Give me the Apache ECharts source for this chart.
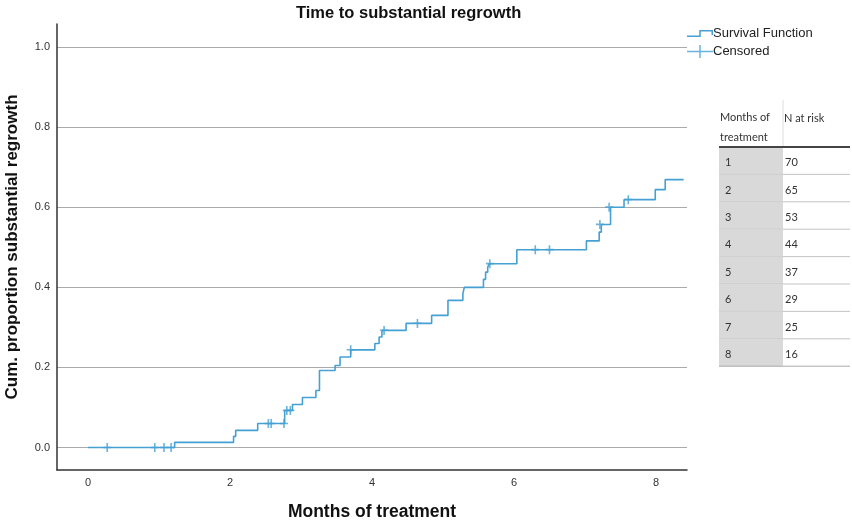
<!DOCTYPE html>
<html>
<head>
<meta charset="utf-8">
<script src="https://cdn.jsdelivr.net/npm/echarts@6/dist/echarts.min.js"></script>
<style>
  html, body { margin: 0; padding: 0; background: #fff; }
  #main { width: 852px; height: 526px; }
</style>
</head>
<body>
<div id="main"></div>
<script type="text/javascript">
    // Kaplan-Meier style curve (cumulative proportion)
    var survTime = [0, 1.22, 2.05, 2.08, 2.39, 2.77, 2.88, 3.02, 3.21, 3.26, 3.48, 3.55, 3.70, 4.04, 4.10, 4.14, 4.48, 4.84, 5.07, 5.28, 5.30, 5.57, 5.60, 5.63, 5.65, 6.04, 7.02, 7.20, 7.23, 7.36, 7.55, 7.99, 8.13, 8.39];
    var survProb = [0, 0.013, 0.028, 0.043, 0.06, 0.0925, 0.1075, 0.125, 0.1425, 0.1925, 0.205, 0.226, 0.244, 0.26, 0.276, 0.2925, 0.31, 0.33, 0.3675, 0.384, 0.40, 0.42, 0.438, 0.45, 0.459, 0.494, 0.516, 0.538, 0.557, 0.60, 0.619, 0.644, 0.669, 0.669];
    var censTime = [0.27, 0.94, 1.07, 1.17, 2.54, 2.58, 2.76, 2.80, 2.85, 3.70, 4.17, 4.64, 5.66, 6.30, 6.50, 7.21, 7.34, 7.61];
    var censProb = [0, 0, 0, 0, 0.06, 0.06, 0.06, 0.0925, 0.0925, 0.244, 0.2925, 0.31, 0.459, 0.494, 0.494, 0.557, 0.60, 0.619];

    // risk table
    var months = [1, 2, 3, 4, 5, 6, 7, 8];
    var atRisk = [70, 65, 53, 44, 37, 29, 25, 16];

    var blue = '#45a0d3';
    var font = '"Liberation Sans", Arial, sans-serif';

    var survData = survTime.map(function (t, i) { return [t, survProb[i]]; });
    var censData = censTime.map(function (t, i) { return [t, censProb[i]]; });

    // table drawn with graphic elements
    var tX = 719, tW = 131, c1W = 64, hTop = 100, hBot = 147, rowH = 27.4;
    var tfont = '11px Lato, "Open Sans", sans-serif';
    var table = [];
    table.push({ type: 'line', shape: { x1: tX + c1W, y1: hTop, x2: tX + c1W, y2: hBot }, style: { stroke: '#dddddd', lineWidth: 1 } });
    table.push({ type: 'text', x: tX + 1, y: 117, style: { text: 'Months of', font: tfont, fill: '#333', verticalAlign: 'middle' } });
    table.push({ type: 'text', x: tX + 1, y: 137, style: { text: 'treatment', font: tfont, fill: '#333', verticalAlign: 'middle' } });
    table.push({ type: 'text', x: tX + c1W + 1, y: 118, style: { text: 'N at risk', font: tfont, fill: '#333', verticalAlign: 'middle' } });
    months.forEach(function (m, i) {
        var y0 = hBot + rowH * i;
        table.push({ type: 'rect', shape: { x: tX, y: y0, width: c1W, height: rowH }, style: { fill: '#d9d9d9' } });
        table.push({ type: 'line', shape: { x1: tX, y1: y0 + rowH, x2: tX + tW, y2: y0 + rowH }, style: { stroke: i === months.length - 1 ? '#aaaaaa' : '#c4c4c4', lineWidth: 1 } });
        table.push({ type: 'text', x: tX + 6, y: y0 + rowH / 2 + 2, style: { text: String(m), font: tfont, fill: '#333', verticalAlign: 'middle' } });
        table.push({ type: 'text', x: tX + c1W + 2, y: y0 + rowH / 2 + 2, style: { text: String(atRisk[i]), font: tfont, fill: '#333', verticalAlign: 'middle' } });
    });
    table.push({ type: 'line', shape: { x1: tX, y1: hBot, x2: tX + tW, y2: hBot }, style: { stroke: '#444444', lineWidth: 2 } });

    var stepIcon = 'path://M0,5.5H12.25V0H26V5H24.5V1.5H13.75V7H0Z';
    var crossIcon = 'path://M0,5.75H26V7.25H0Z M12.25,0H13.75V13H12.25Z';
    var censSymbol = 'path://M0,3.6H8V5.2H0Z M3.2,0H4.8V9H3.2Z';

    var myChart = echarts.init(document.getElementById('main'));
    myChart.setOption({
        animation: false,
        backgroundColor: '#fff',
        title: {
            text: 'Time to substantial regrowth',
            left: 291,
            top: 0,
            textStyle: { fontFamily: font, fontSize: 16.5, fontWeight: 'bold', color: '#111' }
        },
        legend: {
            orient: 'vertical',
            left: 682,
            top: 22,
            itemWidth: 26,
            itemHeight: 13,
            itemGap: 5,
            symbolKeepAspect: true,
            textStyle: { fontFamily: font, fontSize: 13, color: '#222', padding: [0, 0, 0, -5] },
            data: [
                { name: 'Survival Function', icon: stepIcon },
                { name: 'Censored', icon: crossIcon }
            ]
        },
        grid: { left: 57, right: 165, top: 24, bottom: 56, containLabel: false, outerBoundsMode: 'none' },
        xAxis: {
            type: 'value',
            min: -0.437,
            max: 8.437,
            splitNumber: 5,
            name: 'Months of treatment',
            nameLocation: 'middle',
            nameGap: 33,
            nameTextStyle: { fontFamily: font, fontSize: 17.5, fontWeight: 'bold', color: '#111' },
            axisLine: { show: true, onZero: false, lineStyle: { color: '#333', width: 1.5 } },
            axisTick: { show: false },
            splitLine: { show: false },
            axisLabel: {
                margin: 7,
                fontFamily: font, fontSize: 11, color: '#333',
                formatter: function (v) {
                    var r = Math.round(v);
                    return (Math.abs(v - r) < 1e-6 && r % 2 === 0) ? String(r) : '';
                }
            }
        },
        yAxis: {
            type: 'value',
            min: -0.056,
            max: 1.0575,
            splitNumber: 5,
            name: 'Cum. proportion substantial regrowth',
            nameLocation: 'middle',
            nameGap: 36,
            nameTextStyle: { fontFamily: font, fontSize: 17, fontWeight: 'bold', color: '#111' },
            axisLine: { show: true, onZero: false, lineStyle: { color: '#333', width: 1.5 } },
            axisTick: { show: false },
            splitLine: { show: true, showMinLine: false, showMaxLine: false, lineStyle: { color: '#aaaaaa', width: 1.2 } },
            axisLabel: {
                margin: 7,
                fontFamily: font, fontSize: 11, color: '#333',
                formatter: function (v) {
                    var r = Math.round(v * 5) / 5;
                    return (Math.abs(v - r) < 1e-6 && v >= 0) ? r.toFixed(1) : '';
                }
            }
        },
        series: [
            {
                name: 'Survival Function',
                type: 'line',
                step: 'end',
                data: survData,
                showSymbol: false,
                itemStyle: { color: blue },
                lineStyle: { color: blue, width: 1.6 },
                z: 3
            },
            {
                name: 'Censored',
                type: 'scatter',
                data: censData,
                symbol: censSymbol,
                symbolSize: [8, 9],
                itemStyle: { color: blue },
                z: 4
            }
        ],
        graphic: table
    });
</script>
</body>
</html>
